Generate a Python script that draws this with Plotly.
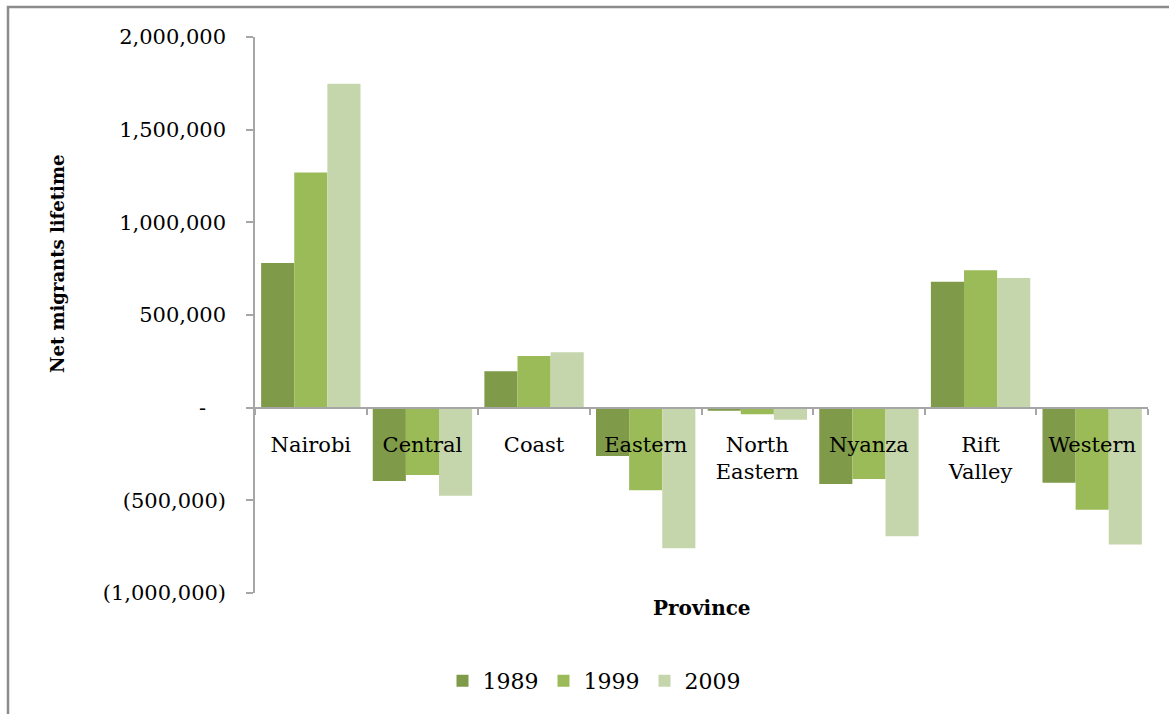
import plotly.graph_objects as go

# Net lifetime migrants by province and census year
provinces = ["Nairobi", "Central", "Coast", "Eastern", "North<br>Eastern",
             "Nyanza", "Rift<br>Valley", "Western"]
years = ["1989", "1999", "2009"]
net_1989 = [780000, -396000, 196000, -261000, -16000, -412000, 680000, -405000]
net_1999 = [1269000, -363000, 279000, -446000, -36000, -385000, 742000, -551000]
net_2009 = [1748000, -475000, 299000, -758000, -65000, -694000, 700000, -738000]
colors = ["#7F9A48", "#9BBB59", "#C6D6AC"]

y_ticks = [-1000000, -500000, 0, 500000, 1000000, 1500000, 2000000]
y_tick_text = ["(1,000,000)", "(500,000)", "-\u00a0\u00a0\u00a0",
               "500,000", "1,000,000", "1,500,000", "2,000,000"]
y_min, y_max = -1000000, 2000000

SERIF = "DejaVu Serif"
AXIS_GREY = "#A6A6A6"

fig = go.Figure()
for name, vals, col in zip(years, [net_1989, net_1999, net_2009], colors):
    fig.add_trace(go.Bar(name=name, x=provinces, y=vals,
                         marker=dict(color=col, line=dict(width=0))))

# plot area in pixels: left 255, right 1148, top 37, bottom 593
L, R, T, B, W, H = 255, 1148, 37, 593, 1169, 714
pw, ph = R - L, B - T

# horizontal axis sits on the zero line
zero_frac = (0 - y_min) / (y_max - y_min)

fig.update_layout(
    width=W, height=H,
    margin=dict(l=L, r=W - R, t=T, b=H - B, autoexpand=False),
    paper_bgcolor="white", plot_bgcolor="white",
    barmode="group", bargap=0.11, bargroupgap=0,
    font=dict(family=SERIF, color="#000000"),
    xaxis=dict(
        anchor="free", position=zero_frac,
        showline=True, linecolor=AXIS_GREY, linewidth=2,
        ticks="outside", tickson="boundaries", ticklen=6, tickwidth=1.5,
        tickcolor=AXIS_GREY, tickfont=dict(family=SERIF, size=21),
        ticklabelstandoff=18, showgrid=False, zeroline=False,
    ),
    yaxis=dict(
        range=[y_min, y_max], tickvals=y_ticks, ticktext=y_tick_text,
        showline=True, linecolor=AXIS_GREY, linewidth=1.5,
        ticks="outside", ticklen=7, tickwidth=1.5, tickcolor=AXIS_GREY,
        tickfont=dict(family=SERIF, size=21), ticklabelstandoff=16,
        showgrid=False, zeroline=False,
    ),
    legend=dict(
        orientation="h", x=(594 - L) / pw, xanchor="center",
        y=(B - 681) / ph, yanchor="middle",
        font=dict(family=SERIF, size=22), itemwidth=30,
        bgcolor="rgba(0,0,0,0)",
    ),
    showlegend=True,
    annotations=[
        dict(text="<b>Net migrants lifetime</b>", xref="paper", yref="paper",
             x=(57 - L) / pw, y=(B - 264) / ph, textangle=-90,
             showarrow=False, xanchor="center", yanchor="middle",
             font=dict(family=SERIF, size=18)),
        dict(text="<b>Province</b>", xref="paper", yref="paper",
             x=(702 - L) / pw, y=(B - 608) / ph,
             showarrow=False, xanchor="center", yanchor="middle",
             font=dict(family=SERIF, size=20)),
    ],
    shapes=[
        dict(type="rect", xref="paper", yref="paper", layer="below",
             x0=(8 - L) / pw, x1=1.2, y0=-0.4, y1=(B - 7) / ph,
             line=dict(color="#8C8C8C", width=2.5), fillcolor="rgba(0,0,0,0)"),
    ],
)

fig.write_html("out.html")
